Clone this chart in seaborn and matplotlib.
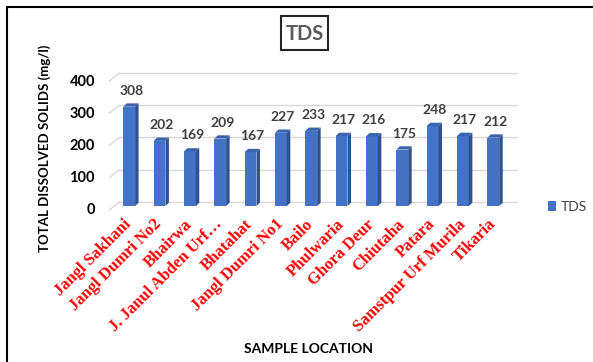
import matplotlib
matplotlib.use("Agg")
import numpy as np
import pandas as pd
import matplotlib.pyplot as plt
from matplotlib.patches import Polygon, Rectangle
from matplotlib.lines import Line2D
import seaborn as sns

# ---- data -------------------------------------------------------------
locations = [
    "Jangl Sakhani", "Jangl Dumri No2", "Bhairwa", "J. Janul Abden Urf\u2026",
    "Bhatahat", "Jangl Dumri No1", "Bailo", "Phulwaria", "Ghora Deur",
    "Chiutaha", "Patara", "Samstpur Urf Murila", "Tikaria",
]
tds = [308, 202, 169, 209, 167, 227, 233, 217, 216, 175, 248, 217, 212]
y_ticks = [0, 100, 200, 300, 400]
series_name = "TDS"

# ---- style --------------------------------------------------------------
FRONT = "#4472C4"
SIDE = "#2F528F"
TOP = "#3A63AE"
GRID = "#D9D9D9"
VALUE_COLOR = "#404040"

sns.set_theme(style="white")
plt.rcParams["font.family"] = ["Lato", "DejaVu Sans"]

W, H, DPI = 593, 362, 100
fig = plt.figure(figsize=(W / DPI, H / DPI), dpi=DPI)
fig.patch.set_facecolor("white")

# plot area: the plane of the bar fronts
ax = fig.add_axes([114.3 / W, 1 - 206 / H, 397.2 / W, 129 / H])
ax.set_facecolor("none")

df = pd.DataFrame({"location": locations, "TDS": tds, "series": series_name})
sns.barplot(
    data=df, x="location", y="TDS", hue="series", palette=[FRONT],
    width=0.39, saturation=1, errorbar=None, linewidth=0, ax=ax, zorder=3,
)
ax.set_xlim(-0.49, 12.6)
ax.set_ylim(0, 400)
for s in ax.spines.values():
    s.set_visible(False)
ax.set_yticks([])
ax.set_xlabel("")
ax.set_ylabel("")


def shift(x, y, dx, dy):
    """Move a data point by (dx, dy) screen pixels, returned in data units."""
    X, Y = ax.transData.transform((x, y))
    return tuple(ax.transData.inverted().transform((X + dx, Y + dy)))


WALL = (5.0, 4.0)   # depth from bar plane to back wall
BAR = (3.5, 3.3)    # depth of each column
x0, x1 = ax.get_xlim()

# back-wall gridlines with the receding floor/side edges
for v in y_ticks:
    a = shift(x0, v, *WALL)
    b = shift(x1, v, *WALL)
    f = shift(x0, v, -WALL[0], -WALL[1])
    ax.add_line(Line2D([a[0], b[0]], [a[1], b[1]], color=GRID, lw=1.0,
                       zorder=1, clip_on=False))
    ax.add_line(Line2D([f[0], a[0]], [f[1], a[1]], color=GRID, lw=1.0,
                       zorder=1, clip_on=False))
    ax.annotate(str(v), xy=(x0, v), xytext=(-19.3, -4.5),
                textcoords="offset pixels", ha="right", va="center",
                fontsize=10.5, fontweight="bold", color="black",
                annotation_clip=False)

# side and top faces of each column, plus value labels
for p in ax.patches:
    bx, bw, bh = p.get_x(), p.get_width(), p.get_height()
    if bw == 0:
        continue
    side = [(bx + bw, 0), (bx + bw, bh), shift(bx + bw, bh, *BAR),
            shift(bx + bw, 0, *BAR)]
    top = [(bx, bh), (bx + bw, bh), shift(bx + bw, bh, *BAR),
           shift(bx, bh, *BAR)]
    ax.add_patch(Polygon(side, closed=True, fc=SIDE, ec="none", zorder=3,
                         clip_on=False))
    ax.add_patch(Polygon(top, closed=True, fc=TOP, ec="none", zorder=3,
                         clip_on=False))
    ax.annotate(f"{bh:.0f}", xy=(bx + bw / 2, bh), xytext=(2, 16),
                textcoords="offset pixels", ha="center", va="center",
                fontsize=10, fontweight="bold", color=VALUE_COLOR,
                annotation_clip=False)

# category labels
ax.set_xticks(range(len(locations)))
ax.set_xticklabels(locations, rotation=45, ha="right", va="center",
                   rotation_mode="anchor", color="red", fontweight="bold",
                   fontsize=12, family=["Liberation Serif", "DejaVu Serif"])
ax.tick_params(axis="x", length=0, pad=11.5)

# legend
ax.legend(loc="center left", bbox_to_anchor=(548 / W, 1 - 207 / H),
          bbox_transform=fig.transFigure, frameon=False, fontsize=10,
          handlelength=0.6, handleheight=0.65, handletextpad=0.3,
          borderpad=0, borderaxespad=0, labelcolor=VALUE_COLOR)

# axis titles
fig.text(45 / W, 1 - 148 / H, "TOTAL DISSOLVED SOLIDS (mg/l)", rotation=90,
         ha="center", va="center", fontsize=9.5, fontweight="bold",
         color="black")
fig.text(308 / W, 1 - 349 / H, "SAMPLE LOCATION", ha="center", va="center",
         fontsize=10, fontweight="bold", color="black")

# boxed chart title
fig.patches.append(Rectangle((280.7 / W, 1 - 50 / H), 47.6 / W, 34 / H,
                             transform=fig.transFigure, fill=True, fc="white",
                             ec="#262626", lw=1.5, zorder=5))
fig.text(304.5 / W, 1 - 33.5 / H, "TDS", ha="center", va="center",
         fontsize=14.5, fontweight="bold", color="#595959", zorder=6)

# chart frame (left and top edges visible)
fig.add_artist(Line2D([7.3 / W, 7.3 / W], [1 - 6.7 / H, 0], color="black",
                      lw=1.5, transform=fig.transFigure))
fig.add_artist(Line2D([7.3 / W, 1], [1 - 6.7 / H, 1 - 6.7 / H], color="black",
                      lw=1.5, transform=fig.transFigure))

fig.savefig("out.png", dpi=DPI)
